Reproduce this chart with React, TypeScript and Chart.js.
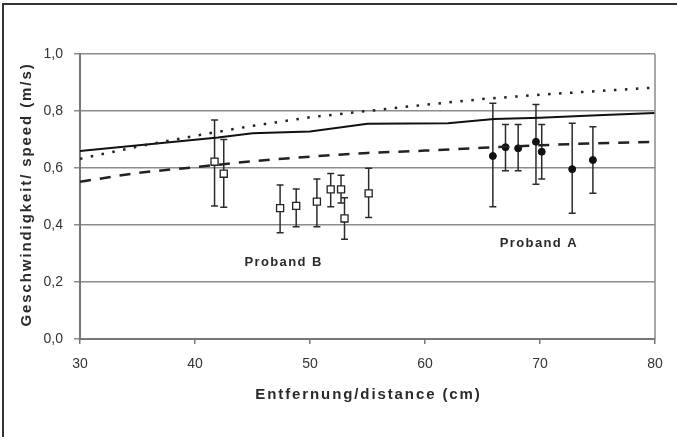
import React, { useEffect, useRef } from 'react';
import { Chart, registerables } from 'chart.js';

Chart.register(...registerables);

// fitted curves (x in cm, y in m/s)
const curveX = [30, 35, 40, 45, 50, 55, 60, 65, 70, 75, 80];
const dottedY = [0.632, 0.675, 0.713, 0.748, 0.778, 0.8, 0.822, 0.842, 0.857, 0.87, 0.882];
const dashedY = [0.552, 0.583, 0.603, 0.624, 0.64, 0.653, 0.661, 0.671, 0.68, 0.687, 0.692];
const solidX = [30, 42, 45, 50, 55, 62, 66, 70, 75, 80];
const solidY = [0.66, 0.707, 0.722, 0.728, 0.755, 0.757, 0.772, 0.776, 0.785, 0.793];

// Proband B (open squares)
const bX = [41.7, 42.5, 47.4, 48.8, 50.6, 51.8, 52.7, 53.0, 55.1];
const bY = [0.622, 0.58, 0.459, 0.467, 0.482, 0.525, 0.525, 0.423, 0.511];
const bLo = [0.467, 0.462, 0.373, 0.394, 0.394, 0.464, 0.477, 0.35, 0.426];
const bHi = [0.768, 0.7, 0.54, 0.526, 0.561, 0.581, 0.575, 0.496, 0.599];

// Proband A (filled dots)
const aX = [65.9, 67.0, 68.1, 69.65, 70.15, 72.8, 74.6];
const aY = [0.642, 0.673, 0.669, 0.692, 0.657, 0.596, 0.628];
const aLo = [0.464, 0.59, 0.59, 0.543, 0.561, 0.441, 0.511];
const aHi = [0.827, 0.753, 0.753, 0.823, 0.753, 0.757, 0.745];

const xTicks = [30, 40, 50, 60, 70, 80];
const yTicks = ['0,0', '0,2', '0,4', '0,6', '0,8', '1,0'];

const noteTexts = ['Proband B', 'Proband A'];
const noteX = [47.7, 69.9];
const noteY = [0.268, 0.336];

const xTitle = 'Entfernung/distance (cm)';
const yTitle = 'Geschwindigkeit/ speed (m/s)';

const FONT = "'Liberation Sans', Arial, sans-serif";

const toPts = (xs: number[], ys: number[]) => xs.map((x, i) => ({ x, y: ys[i] }));

const errorBars = {
  id: 'errorBars',
  beforeDatasetsDraw(chart: any) {
    const { ctx, scales } = chart;
    const groups = [
      { xs: bX, lo: bLo, hi: bHi },
      { xs: aX, lo: aLo, hi: aHi },
    ];
    ctx.save();
    ctx.strokeStyle = '#2b2b2b';
    ctx.lineWidth = 1.5;
    groups.forEach(g => {
      g.xs.forEach((x, i) => {
        const px = scales.x.getPixelForValue(x);
        const top = scales.y.getPixelForValue(g.hi[i]);
        const bot = scales.y.getPixelForValue(g.lo[i]);
        ctx.beginPath();
        ctx.moveTo(px, top);
        ctx.lineTo(px, bot);
        ctx.moveTo(px - 3.5, top);
        ctx.lineTo(px + 3.5, top);
        ctx.moveTo(px - 3.5, bot);
        ctx.lineTo(px + 3.5, bot);
        ctx.stroke();
      });
    });
    ctx.restore();
  },
};

const decorations = {
  id: 'decorations',
  afterDraw(chart: any) {
    const { ctx, chartArea, scales } = chart;
    ctx.save();
    // right frame of the plot area
    ctx.strokeStyle = '#8a8a8a';
    ctx.lineWidth = 1.5;
    ctx.beginPath();
    ctx.moveTo(chartArea.right, chartArea.top);
    ctx.lineTo(chartArea.right, chartArea.bottom);
    ctx.stroke();

    ctx.fillStyle = '#2a2a2a';
    ctx.textAlign = 'center';
    ctx.textBaseline = 'middle';
    (ctx as any).letterSpacing = '1.9px';
    ctx.font = `bold 15px ${FONT}`;
    ctx.fillText(xTitle, (chartArea.left + chartArea.right) / 2 + 1, 395);

    ctx.save();
    ctx.translate(27, (chartArea.top + chartArea.bottom) / 2 - 2);
    ctx.rotate(-Math.PI / 2);
    ctx.fillText(yTitle, 0, 0);
    ctx.restore();

    (ctx as any).letterSpacing = '1.4px';
    ctx.font = `bold 13px ${FONT}`;
    noteTexts.forEach((t, i) => {
      ctx.fillText(t, scales.x.getPixelForValue(noteX[i]), scales.y.getPixelForValue(noteY[i]));
    });
    ctx.restore();
  },
};

const App: React.FC = () => {
  const canvasRef = useRef<HTMLCanvasElement | null>(null);
  const chartRef = useRef<Chart | null>(null);

  useEffect(() => {
    if (!canvasRef.current) return;
    if (chartRef.current) chartRef.current.destroy();

    chartRef.current = new Chart(canvasRef.current, {
      type: 'scatter',
      data: {
        datasets: [
          {
            label: 'dotted',
            data: toPts(curveX, dottedY),
            showLine: true,
            borderColor: '#222',
            borderWidth: 2.5,
            borderDash: [2.5, 8.5],
            pointRadius: 0,
            tension: 0,
          },
          {
            label: 'solid',
            data: toPts(solidX, solidY),
            showLine: true,
            borderColor: '#111',
            borderWidth: 2,
            pointRadius: 0,
          },
          {
            label: 'dashed',
            data: toPts(curveX, dashedY),
            showLine: true,
            borderColor: '#222',
            borderWidth: 2.5,
            borderDash: [11, 9],
            pointRadius: 0,
          },
          {
            label: 'Proband B',
            data: toPts(bX, bY),
            pointStyle: 'rect',
            pointRadius: 5,
            backgroundColor: '#fff',
            borderColor: '#222',
            borderWidth: 1.3,
          },
          {
            label: 'Proband A',
            data: toPts(aX, aY),
            pointStyle: 'circle',
            pointRadius: 3.5,
            backgroundColor: '#111',
            borderColor: '#111',
            borderWidth: 1,
          },
        ],
      },
      options: {
        responsive: false,
        animation: false,
        layout: { padding: { top: 54, right: 22, left: 0, bottom: 0 } },
        plugins: {
          legend: { display: false },
          tooltip: { enabled: false },
        },
        scales: {
          x: {
            type: 'linear',
            min: 30,
            max: 80,
            afterFit: (s: any) => { s.height = 98; },
            afterBuildTicks: (s: any) => { s.ticks = xTicks.map(v => ({ value: v })); },
            ticks: {
              color: '#333',
              font: { family: FONT, size: 14 },
              padding: 12,
              callback: (v: any) => String(v),
            },
            grid: { drawOnChartArea: false, drawTicks: true, tickLength: 5, color: '#777', lineWidth: 1.5 },
            border: { color: '#777', width: 2 },
          },
          y: {
            min: 0,
            max: 1,
            afterFit: (s: any) => { s.width = 80; },
            afterBuildTicks: (s: any) => { s.ticks = yTicks.map((_, i) => ({ value: i * 0.2 })); },
            ticks: {
              color: '#333',
              font: { family: FONT, size: 14 },
              padding: 11,
              callback: (_v: any, i: number) => yTicks[i],
            },
            grid: { color: '#8c8c8c', lineWidth: 1.5, tickLength: 6 },
            border: { color: '#777', width: 2 },
          },
        },
      },
      plugins: [errorBars, decorations],
    });

    return () => {
      if (chartRef.current) {
        chartRef.current.destroy();
        chartRef.current = null;
      }
    };
  }, []);

  return (
    <div style={{ position: 'absolute', left: 0, top: 0, width: 677, height: 437, background: '#fff', overflow: 'hidden' }}>
      <div style={{ position: 'absolute', left: 2, top: 3, width: 680, height: 440, borderLeft: '2px solid #333', borderTop: '2px solid #333' }} />
      <canvas ref={canvasRef} width={677} height={437} style={{ position: 'absolute', left: 0, top: 0 }} />
    </div>
  );
};

export default App;
